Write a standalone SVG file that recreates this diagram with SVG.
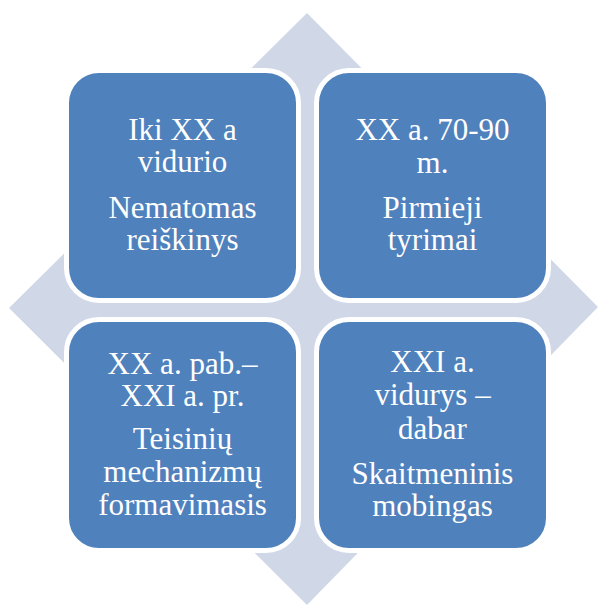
<svg xmlns="http://www.w3.org/2000/svg" width="598" height="605" viewBox="0 0 598 605">
<style>
.box{fill:#4F81BD;stroke:#FFFFFF;stroke-width:5}
.t{font-family:"Liberation Serif","Times New Roman",serif;font-size:31px;fill:#FFFFFF;text-anchor:middle}
</style>
<rect width="598" height="605" fill="#FFFFFF"/>
<g id="background">
<polygon points="307,13 598,307 307,605 9,308" fill="#D0D8E8"/>
</g>
<g id="connectors"></g>
<g id="node-tl">
<rect class="box" x="66.5" y="70.5" width="232" height="230" rx="32.5"/>
<text class="t" x="182.5" y="139.5">Iki XX a</text>
<text class="t" x="182.5" y="172">vidurio</text>
<text class="t" x="182.5" y="217.5">Nematomas</text>
<text class="t" x="182.5" y="250">reiškinys</text>
</g>
<g id="node-tr">
<rect class="box" x="316.5" y="70.5" width="232" height="230" rx="32.5"/>
<text class="t" x="432.5" y="139.5">XX a. 70-90</text>
<text class="t" x="432.5" y="172.5">m.</text>
<text class="t" x="432.5" y="217.5">Pirmieji</text>
<text class="t" x="432.5" y="250">tyrimai</text>
</g>
<g id="node-bl">
<rect class="box" x="66.5" y="319.5" width="232" height="231" rx="32.5"/>
<text class="t" x="182.5" y="373.5">XX a. pab.–</text>
<text class="t" x="182.5" y="405.5">XXI a. pr.</text>
<text class="t" x="182.5" y="448.5">Teisinių</text>
<text class="t" x="182.5" y="481.5">mechanizmų</text>
<text class="t" x="182.5" y="514.5">formavimasis</text>
</g>
<g id="node-br">
<rect class="box" x="316.5" y="319.5" width="232" height="231" rx="32.5"/>
<text class="t" x="432.5" y="372">XXI a.</text>
<text class="t" x="432.5" y="405">vidurys –</text>
<text class="t" x="432.5" y="438.5">dabar</text>
<text class="t" x="432.5" y="483.5">Skaitmeninis</text>
<text class="t" x="432.5" y="516">mobingas</text>
</g>
</svg>
